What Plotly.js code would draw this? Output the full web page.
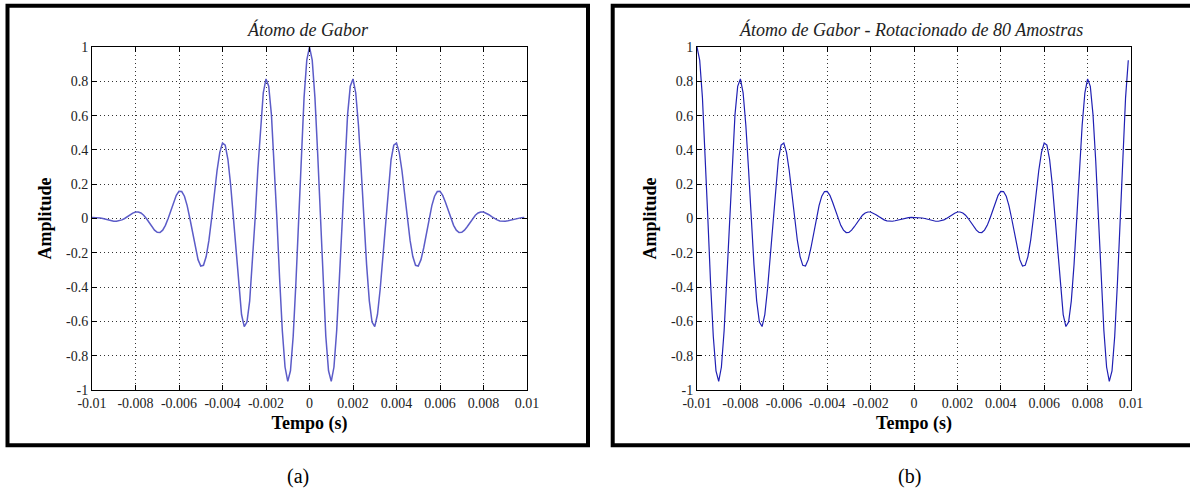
<!DOCTYPE html>
<html>
<head>
<meta charset="utf-8">
<script src="https://cdn.plot.ly/plotly-3.0.1.min.js"></script>
<style>html,body{margin:0;padding:0;background:#fff;}#chart{width:1190px;height:490px;}</style>
</head>
<body>
<div id="chart"></div>
<script>
// Time axis: starts at -0.01 s, 8000 samples/s
const tStart = -0.01;
const tStep = 0.000125;

// (a) Gabor atom amplitudes, samples k = -80 .. 79
const atomAmp = [
 0.006, 0.006, 0.005, 0.003, 0, -0.004, -0.009, -0.013, -0.016, -0.016, -0.014, -0.008, 0, 0.011, 0.022, 0.031,
 0.038, 0.038, 0.032, 0.019, 0, -0.024, -0.048, -0.068, -0.081, -0.082, -0.068, -0.040, 0, 0.048, 0.095, 0.135,
 0.158, 0.157, 0.130, 0.075, 0, -0.087, -0.172, -0.240, -0.277, -0.273, -0.222, -0.128, 0, 0.143, 0.280, 0.386,
 0.440, 0.428, 0.344, 0.195, 0, -0.213, -0.411, -0.560, -0.630, -0.604, -0.480, -0.269, 0, 0.287, 0.545, 0.733,
 0.814, 0.771, 0.604, 0.334, 0, -0.347, -0.653, -0.866, -0.950, -0.888, -0.687, -0.375, 0, 0.380, 0.705, 0.923,
 1.000, 0.923, 0.705, 0.380, 0, -0.375, -0.687, -0.888, -0.950, -0.866, -0.653, -0.347, 0, 0.334, 0.604, 0.771,
 0.814, 0.733, 0.545, 0.287, 0, -0.269, -0.480, -0.604, -0.630, -0.560, -0.411, -0.213, 0, 0.195, 0.344, 0.428,
 0.440, 0.386, 0.280, 0.143, 0, -0.128, -0.222, -0.273, -0.277, -0.240, -0.172, -0.087, 0, 0.075, 0.130, 0.157,
 0.158, 0.135, 0.095, 0.048, 0, -0.040, -0.068, -0.082, -0.081, -0.068, -0.048, -0.024, 0, 0.019, 0.032, 0.038,
 0.038, 0.031, 0.022, 0.011, 0, -0.008, -0.014, -0.016, -0.016, -0.013, -0.009, -0.004, 0, 0.003, 0.005, 0.006
];

// (b) Gabor atom rotated by 80 samples
const rotatedAmp = [
 1.000, 0.923, 0.705, 0.380, 0, -0.375, -0.687, -0.888, -0.950, -0.866, -0.653, -0.347, 0, 0.334, 0.604, 0.771,
 0.814, 0.733, 0.545, 0.287, 0, -0.269, -0.480, -0.604, -0.630, -0.560, -0.411, -0.213, 0, 0.195, 0.344, 0.428,
 0.440, 0.386, 0.280, 0.143, 0, -0.128, -0.222, -0.273, -0.277, -0.240, -0.172, -0.087, 0, 0.075, 0.130, 0.157,
 0.158, 0.135, 0.095, 0.048, 0, -0.040, -0.068, -0.082, -0.081, -0.068, -0.048, -0.024, 0, 0.019, 0.032, 0.038,
 0.038, 0.031, 0.022, 0.011, 0, -0.008, -0.014, -0.016, -0.016, -0.013, -0.009, -0.004, 0, 0.003, 0.005, 0.006,
 0.006, 0.006, 0.005, 0.003, 0, -0.004, -0.009, -0.013, -0.016, -0.016, -0.014, -0.008, 0, 0.011, 0.022, 0.031,
 0.038, 0.038, 0.032, 0.019, 0, -0.024, -0.048, -0.068, -0.081, -0.082, -0.068, -0.040, 0, 0.048, 0.095, 0.135,
 0.158, 0.157, 0.130, 0.075, 0, -0.087, -0.172, -0.240, -0.277, -0.273, -0.222, -0.128, 0, 0.143, 0.280, 0.386,
 0.440, 0.428, 0.344, 0.195, 0, -0.213, -0.411, -0.560, -0.630, -0.604, -0.480, -0.269, 0, 0.287, 0.545, 0.733,
 0.814, 0.771, 0.604, 0.334, 0, -0.347, -0.653, -0.866, -0.950, -0.888, -0.687, -0.375, 0, 0.380, 0.705, 0.923
];

const xTickVals = [-0.01, -0.008, -0.006, -0.004, -0.002, 0, 0.002, 0.004, 0.006, 0.008, 0.01];
const xTickText = ['-0.01', '-0.008', '-0.006', '-0.004', '-0.002', '0', '0.002', '0.004', '0.006', '0.008', '0.01'];
const yTickVals = [-1, -0.8, -0.6, -0.4, -0.2, 0, 0.2, 0.4, 0.6, 0.8, 1];
const yTickText = ['-1', '-0.8', '-0.6', '-0.4', '-0.2', '0', '0.2', '0.4', '0.6', '0.8', '1'];

const titleA = 'Átomo de Gabor';
const titleB = 'Átomo de Gabor - Rotacionado de 80 Amostras';
const xLabel = 'Tempo (s)';
const yLabel = 'Amplitude';
const panelLabels = ['(a)', '(b)'];

const W = 1190, H = 490;
const px = v => v / W;
const py = v => 1 - v / H;
const SERIF = '"Liberation Serif", "Times New Roman", serif';

const traces = [
  {x0: tStart, dx: tStep, y: atomAmp, type: 'scatter', mode: 'lines',
   line: {color: '#5c5cc8', width: 1.5}, xaxis: 'x', yaxis: 'y', hoverinfo: 'skip'},
  {x0: tStart, dx: tStep, y: rotatedAmp, type: 'scatter', mode: 'lines',
   line: {color: '#2020b4', width: 1.2}, xaxis: 'x2', yaxis: 'y2', hoverinfo: 'skip'}
];

function xAxis(domain, anchor) {
  return {
    domain: domain, anchor: anchor, range: [-0.01, 0.01],
    tickvals: xTickVals, ticktext: xTickText,
    ticks: 'inside', ticklen: 5, tickcolor: '#000', mirror: 'ticks',
    showline: true, linecolor: '#000', linewidth: 1,
    showgrid: true, griddash: '1px,3px', gridcolor: '#333', gridwidth: 1,
    zeroline: false,
    tickfont: {family: SERIF, size: 14, color: '#222'},
    title: {text: xLabel, font: {family: SERIF, size: 18, color: '#000', weight: 'bold'}, standoff: 6}
  };
}
function yAxis(anchor) {
  return {
    domain: [py(390), py(47)], anchor: anchor, range: [-1, 1],
    tickvals: yTickVals, ticktext: yTickText,
    ticks: 'inside', ticklen: 5, tickcolor: '#000', mirror: 'ticks',
    showline: true, linecolor: '#000', linewidth: 1,
    showgrid: true, griddash: '1px,3px', gridcolor: '#333', gridwidth: 1,
    zeroline: false,
    tickfont: {family: SERIF, size: 14, color: '#222'},
    title: {text: yLabel, font: {family: SERIF, size: 18, color: '#000', weight: 'bold'}, standoff: 9}
  };
}

const layout = {
  width: W, height: H,
  margin: {l: 0, r: 0, t: 0, b: 0},
  paper_bgcolor: '#fff', plot_bgcolor: '#fff',
  showlegend: false,
  xaxis: xAxis([px(92), px(527)], 'y'),
  yaxis: yAxis('x'),
  xaxis2: xAxis([px(697), px(1131)], 'y2'),
  yaxis2: yAxis('x2'),
  shapes: [
    {type: 'rect', xref: 'paper', yref: 'paper', x0: px(7.5), x1: px(588), y0: py(445.3), y1: py(5.7),
     line: {color: '#000', width: 4}},
    {type: 'rect', xref: 'paper', yref: 'paper', x0: px(612.7), x1: px(1200), y0: py(445.3), y1: py(5.7),
     line: {color: '#000', width: 4}}
  ],
  annotations: [
    {text: titleA, xref: 'paper', yref: 'paper', x: px(308), y: py(30), showarrow: false,
     xanchor: 'center', yanchor: 'middle', font: {family: SERIF, size: 18, color: '#222', style: 'italic'}},
    {text: titleB, xref: 'paper', yref: 'paper', x: px(911), y: py(30), showarrow: false,
     xanchor: 'center', yanchor: 'middle', font: {family: SERIF, size: 18, color: '#222', style: 'italic'}},
    {text: panelLabels[0], xref: 'paper', yref: 'paper', x: px(298), y: py(476), showarrow: false,
     xanchor: 'center', yanchor: 'middle', font: {family: SERIF, size: 20, color: '#000'}},
    {text: panelLabels[1], xref: 'paper', yref: 'paper', x: px(910), y: py(476), showarrow: false,
     xanchor: 'center', yanchor: 'middle', font: {family: SERIF, size: 20, color: '#000'}}
  ]
};

Plotly.newPlot('chart', traces, layout, {staticPlot: true, displayModeBar: false});
</script>
</body>
</html>
